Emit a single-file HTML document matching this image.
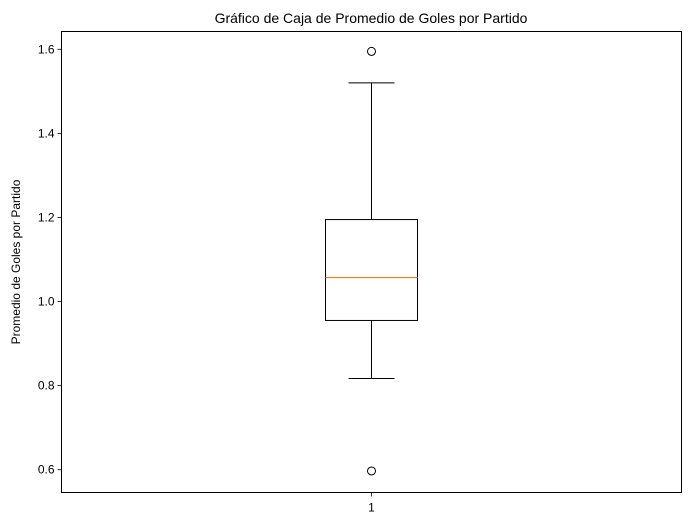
<!DOCTYPE html>
<html><head><meta charset="utf-8"><style>
body{margin:0;background:#fff;}
svg text{font-family:"Liberation Sans","DejaVu Sans",sans-serif;fill:#000;}
</style></head><body>
<svg id="chart" width="691" height="527" xmlns="http://www.w3.org/2000/svg">
<rect width="691" height="527" fill="#fff"/>
<text x="371" y="23" text-anchor="middle" font-size="14">Gráfico de Caja de Promedio de Goles por Partido</text>
<text transform="translate(20,262) rotate(-90)" text-anchor="middle" font-size="12">Promedio de Goles por Partido</text>
<g id="plot"></g>
</svg>
<script>
const categories = ["1"];
const q1 = [0.955];
const median = [1.057];
const q3 = [1.195];
const whiskerLow = [0.817];
const whiskerHigh = [1.520];
const outliers = [[1.595, 0.597]];
const yTicks = [0.6, 0.8, 1.0, 1.2, 1.4, 1.6];

const L = 61.5, R = 681.5, T = 31.5, B = 492.5;
const y = v => 469.7 - (v - 0.6) * 420.4;
const x = i => L + (R - L) * (i + 0.5) / categories.length;
const NS = "http://www.w3.org/2000/svg";
const g = document.getElementById('plot');
function mk(tag, attrs, parent) {
  const e = document.createElementNS(NS, tag);
  for (const k in attrs) e.setAttribute(k, attrs[k]);
  (parent || g).appendChild(e);
  return e;
}
yTicks.forEach(t => {
  const tk = mk('line', {x1: L - 4, x2: L, y1: y(t), y2: y(t), stroke: '#000', 'stroke-width': 0.8});
  
  
  const tx = mk('text', {x: L - 7, y: y(t) + 4, 'text-anchor': 'end', 'font-size': 12});
  tx.textContent = t.toFixed(1);
  
  
});
categories.forEach((c, i) => {
  const cx = x(i), hw = 46, cw = 23;
  const grp = mk('g', {});
  
  
  mk('line', {x1: cx, x2: cx, y1: y(q3[i]), y2: y(whiskerHigh[i]), stroke: '#000'}, grp);
  mk('line', {x1: cx, x2: cx, y1: y(q1[i]), y2: y(whiskerLow[i]), stroke: '#000'}, grp);
  mk('line', {x1: cx - cw, x2: cx + cw, y1: y(whiskerHigh[i]), y2: y(whiskerHigh[i]), stroke: '#000'}, grp);
  mk('line', {x1: cx - cw, x2: cx + cw, y1: y(whiskerLow[i]), y2: y(whiskerLow[i]), stroke: '#000'}, grp);
  mk('rect', {x: cx - hw, y: y(q3[i]), width: 2 * hw, height: y(q1[i]) - y(q3[i]), fill: 'none', stroke: '#000'}, grp);
  mk('line', {x1: cx - hw, x2: cx + hw, y1: y(median[i]), y2: y(median[i]), stroke: '#ff7f0e', 'stroke-width': 1.2}, grp);
  outliers[i].forEach(o => {
    const ci = mk('circle', {cx: cx, cy: y(o), r: 4, fill: 'none', stroke: '#000'}, grp);
    
    
  });
  mk('line', {x1: cx, x2: cx, y1: B, y2: B + 4, stroke: '#000', 'stroke-width': 0.8});
  const lb = mk('text', {x: cx, y: B + 19, 'text-anchor': 'middle', 'font-size': 12});
  lb.textContent = c;
  
  
});
const frame = mk('rect', {x: L, y: T, width: R - L, height: B - T, fill: 'none', stroke: '#000', 'stroke-width': 1});


</script>
</body></html>
